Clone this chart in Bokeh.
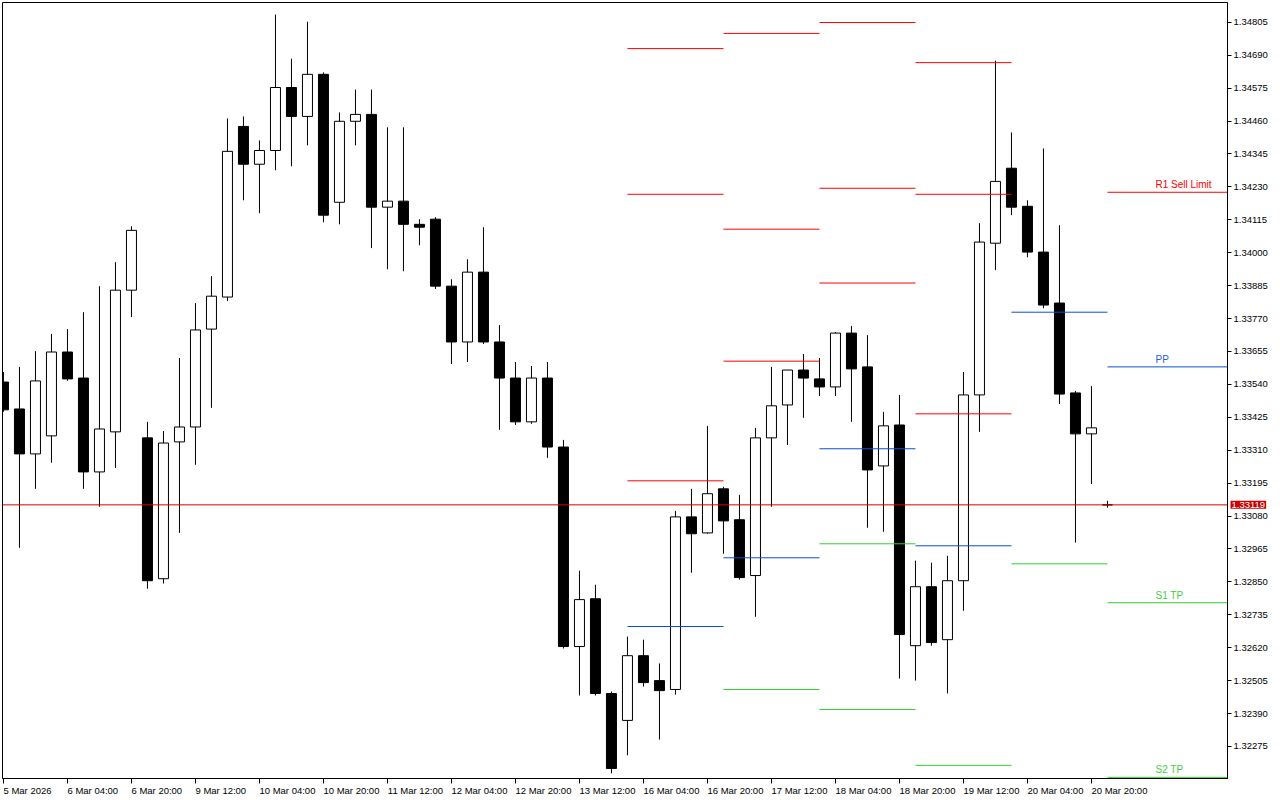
from bokeh.plotting import figure
from bokeh.models import ColumnDataSource, FixedTicker, PrintfTickFormatter, Range1d, Label, Span
from bokeh.embed import file_html
from bokeh.resources import INLINE
from bokeh.core.properties import value

# ---------------- data ----------------
bar_index = list(range(70))

opens = [1.33548, 1.33454, 1.33297, 1.33360, 1.33653, 1.33562, 1.33234, 1.33374, 1.33869, 1.33353,
         1.32861, 1.33339, 1.33391, 1.33733, 1.33845, 1.34441, 1.34309, 1.34357, 1.34577, 1.34476,
         1.34623, 1.34176, 1.34459, 1.34483, 1.34159, 1.34180, 1.34099, 1.34117, 1.33883, 1.33688,
         1.33932, 1.33688, 1.33562, 1.33409, 1.33562, 1.33321, 1.32624, 1.32791, 1.32460, 1.32366,
         1.32592, 1.32505, 1.32474, 1.33077, 1.33021, 1.33175, 1.33067, 1.32872, 1.33353, 1.33468,
         1.33590, 1.33559, 1.33531, 1.33719, 1.33601, 1.33255, 1.33398, 1.32627, 1.32833, 1.32648,
         1.32854, 1.33503, 1.34033, 1.34295, 1.34162, 1.34002, 1.33824, 1.33510, 1.33367, 1.33119]

highs = [1.33583, 1.33601, 1.33656, 1.33716, 1.33733, 1.33792, 1.33883, 1.33967, 1.34092, 1.33409,
         1.33377, 1.33632, 1.33824, 1.33918, 1.34469, 1.34476, 1.34392, 1.34832, 1.34678, 1.34807,
         1.34630, 1.34490, 1.34570, 1.34570, 1.34438, 1.34438, 1.34117, 1.34124, 1.33907, 1.33977,
         1.34089, 1.33747, 1.33618, 1.33604, 1.33618, 1.33346, 1.32889, 1.32840, 1.32467, 1.32659,
         1.32648, 1.32565, 1.33098, 1.33175, 1.33395, 1.33182, 1.33154, 1.33388, 1.33601, 1.33590,
         1.33646, 1.33632, 1.33723, 1.33744, 1.33712, 1.33444, 1.33503, 1.32924, 1.32917, 1.32941,
         1.33583, 1.34103, 1.34671, 1.34420, 1.34183, 1.34364, 1.34096, 1.33517, 1.33534, 1.33133]

lows = [1.33444, 1.32969, 1.33175, 1.33266, 1.33552, 1.33175, 1.33112, 1.33248, 1.33775, 1.32826,
        1.32844, 1.33021, 1.33259, 1.33458, 1.33831, 1.34183, 1.34138, 1.34288, 1.34302, 1.34375,
        1.34106, 1.34099, 1.34375, 1.34016, 1.33942, 1.33935, 1.34026, 1.33873, 1.33611, 1.33618,
        1.33681, 1.33381, 1.33398, 1.33402, 1.33283, 1.32617, 1.32453, 1.32453, 1.32181, 1.32244,
        1.32484, 1.32299, 1.32456, 1.32882, 1.33018, 1.32948, 1.32858, 1.32728, 1.33112, 1.33328,
        1.33423, 1.33499, 1.33499, 1.33409, 1.33039, 1.33025, 1.32512, 1.32505, 1.32627, 1.32460,
        1.32749, 1.33374, 1.33939, 1.34131, 1.33984, 1.33806, 1.33471, 1.32987, 1.33192, 1.33109]

closes = [1.33451, 1.33297, 1.33552, 1.33653, 1.33559, 1.33234, 1.33384, 1.33869, 1.34078, 1.32854,
          1.33335, 1.33391, 1.33730, 1.33848, 1.34354, 1.34309, 1.34357, 1.34577, 1.34476, 1.34623,
          1.34131, 1.34459, 1.34483, 1.34159, 1.34180, 1.34099, 1.34089, 1.33883, 1.33688, 1.33932,
          1.33688, 1.33562, 1.33409, 1.33562, 1.33321, 1.32624, 1.32788, 1.32460, 1.32198, 1.32592,
          1.32498, 1.32470, 1.33077, 1.33018, 1.33158, 1.33063, 1.32865, 1.33353, 1.33465, 1.33590,
          1.33562, 1.33531, 1.33719, 1.33594, 1.33241, 1.33395, 1.32666, 1.32833, 1.32638, 1.32854,
          1.33503, 1.34037, 1.34249, 1.34159, 1.34002, 1.33817, 1.33506, 1.33367, 1.33388, 1.33119]

x_tick_bars = [0, 4, 8, 12, 16, 20, 24, 28, 32, 36, 40, 44, 48, 52, 56, 60, 64, 68]
x_tick_labels = ["5 Mar 2026", "6 Mar 04:00", "6 Mar 20:00", "9 Mar 12:00", "10 Mar 04:00",
                 "10 Mar 20:00", "11 Mar 12:00", "12 Mar 04:00", "12 Mar 20:00", "13 Mar 12:00",
                 "16 Mar 04:00", "16 Mar 20:00", "17 Mar 12:00", "18 Mar 04:00", "18 Mar 20:00",
                 "19 Mar 12:00", "20 Mar 04:00", "20 Mar 20:00"]

y_ticks = [1.32275, 1.32390, 1.32505, 1.32620, 1.32735, 1.32850, 1.32965, 1.33080, 1.33195,
           1.33310, 1.33425, 1.33540, 1.33655, 1.33770, 1.33885, 1.34000, 1.34115, 1.34230,
           1.34345, 1.34460, 1.34575, 1.34690, 1.34805]

current_price = 1.33119

# daily pivot levels (first bar of the day -> first bar of next day)
day_start = [39, 45, 51, 57, 63, 69]
day_end = [45, 51, 57, 63, 69, 90]
R3 = [1.34713, 1.34766, 1.34804, 1.34664, None, None]
R2 = [1.34204, 1.34082, 1.34225, 1.34204, None, None]
R1 = [1.33203, 1.33621, 1.33894, 1.33437, None, 1.34211]
PP = [1.32694, 1.32934, 1.33315, 1.32976, 1.33792, 1.33601]
S1 = [None, 1.32474, 1.32983, 1.32209, 1.32913, 1.32777]
S2 = [None, None, 1.32404, None, None, 1.32167]

level_names = ["R1 Sell Limit", "PP", "S1 TP", "S2 TP"]
level_values = [1.34211, 1.33601, 1.32777, 1.32167]
level_label_bar = 72

# ---------------- styling ----------------
FONT = "Liberation Sans"
AXIS_FS = 9.5
RED = "#ff0000"
BLUE = "#0a50d2"
GREEN = "#32cd32"
level_colors = [RED, "#1f5fe6", "#3fcf3f", "#3fcf3f"]

FRAME_W, FRAME_H = 1225, 776
PX_PER_BAR = 16.0
y_lo, y_hi = 1.32163, 1.34874
x_lo = -0.06
x_hi = x_lo + FRAME_W / PX_PER_BAR

p = figure(frame_width=FRAME_W, frame_height=FRAME_H,
           x_range=Range1d(x_lo, x_hi), y_range=Range1d(y_lo, y_hi),
           output_backend="svg", toolbar_location=None, tools="", y_axis_location="right")
p.min_border_left = 2
p.min_border_top = 2
p.min_border_right = 0
p.min_border_bottom = 0
p.grid.visible = False
p.background_fill_color = "white"
p.border_fill_color = "white"
p.outline_line_color = "black"
p.outline_line_width = 1

# candles
src = ColumnDataSource(dict(
    x=bar_index,
    high=highs,
    low=lows,
    top=[max(o, c) for o, c in zip(opens, closes)],
    bottom=[min(o, c) for o, c in zip(opens, closes)],
    fill=["white" if c >= o else "black" for o, c in zip(opens, closes)],
))
p.segment(x0="x", y0="low", x1="x", y1="high", source=src, line_color="black", line_width=1)
p.vbar(x="x", width=0.625, top="top", bottom="bottom", source=src,
       fill_color="fill", line_color="black", line_width=1)

# current price line
p.add_layout(Span(location=current_price, dimension="width", line_color="#d80000", line_width=1))

# pivot segments
for vals, col in [(R3, RED), (R2, RED), (R1, RED), (PP, BLUE), (S1, GREEN), (S2, GREEN)]:
    xs0 = [s for s, v in zip(day_start, vals) if v is not None]
    xs1 = [e for e, v in zip(day_end, vals) if v is not None]
    ys = [v for v in vals if v is not None]
    p.segment(x0=xs0, x1=xs1, y0=ys, y1=ys, line_color=col, line_width=1)

# pivot labels
p.text(x=[level_label_bar] * len(level_names), y=level_values, text=level_names,
       text_color=level_colors, text_font=value(FONT), text_font_size="10px",
       text_align="left", text_baseline="bottom", y_offset=-2)

# right price axis
p.yaxis.ticker = FixedTicker(ticks=y_ticks, minor_ticks=[])
p.yaxis.formatter = PrintfTickFormatter(format="%.5f")
p.yaxis.major_tick_out = 4
p.yaxis.major_tick_in = 0
p.yaxis.minor_tick_out = 0
p.yaxis.minor_tick_in = 0
p.yaxis.major_label_standoff = 2
p.yaxis.major_label_text_font = FONT
p.yaxis.major_label_text_font_size = "%spx" % AXIS_FS
p.yaxis.major_label_text_color = "black"
p.yaxis.axis_line_color = "black"
p.yaxis.major_tick_line_color = "black"

# time axis: tick marks (minor ticks) at the bars, labels start at the tick (left aligned)
ARIAL_W = {" ": 278, ":": 278, "M": 833, "a": 556, "r": 333}


def text_width(s, size):
    return sum(ARIAL_W.get(ch, 556) for ch in s) * size / 1000.0


label_centers = [t + text_width(lab, AXIS_FS) / 2.0 / PX_PER_BAR
                 for t, lab in zip(x_tick_bars, x_tick_labels)]
p.xaxis.ticker = FixedTicker(ticks=label_centers, minor_ticks=x_tick_bars)
p.xaxis.major_label_overrides = {c: lab for c, lab in zip(label_centers, x_tick_labels)}
p.xaxis.major_tick_out = 0
p.xaxis.major_tick_in = 0
p.xaxis.minor_tick_out = 5
p.xaxis.minor_tick_in = 0
p.xaxis.major_label_standoff = 1
p.xaxis.major_label_text_font = FONT
p.xaxis.major_label_text_font_size = "%spx" % AXIS_FS
p.xaxis.major_label_text_color = "black"
p.xaxis.axis_line_color = "black"
p.xaxis.minor_tick_line_color = "black"

# current price tag on the price axis (side-panel annotation so it is not clipped to the frame)
tag = Label(x=x_hi + 3 / PX_PER_BAR, y=current_price, text="%.5f" % current_price,
            text_align="left", text_baseline="middle", text_font=FONT,
            text_font_size="%spx" % AXIS_FS, text_color="white",
            background_fill_color="#c80000", padding=1)
p.add_layout(tag, "below")

open("out.html", "w").write(file_html(p, INLINE))
